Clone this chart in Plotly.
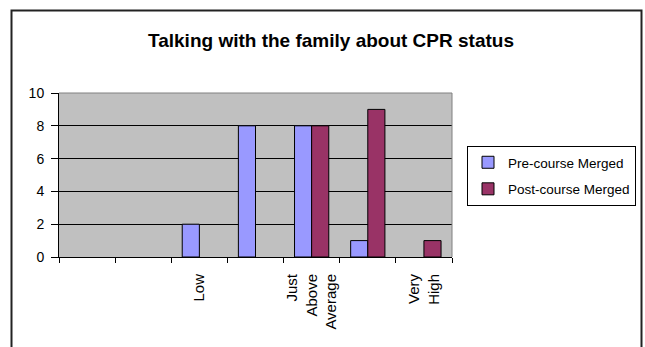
import plotly.graph_objects as go

categories = ["", "", "Low", "", "Just Above Average", "", "Very High"]
pre_course = [0, 0, 2, 8, 8, 1, 0]
post_course = [0, 0, 0, 0, 8, 9, 1]
series_names = ["Pre-course Merged", "Post-course Merged"]
title_text = "Talking with the family about CPR status"
y_ticks = [0, 2, 4, 6, 8, 10]

W, H = 645, 347
L, R, T, B = 59, 452, 93, 257
pw, ph = R - L, B - T

def px_x(v):
    return (v - L) / pw

def px_y(v):
    return (B - v) / ph

xs = list(range(len(categories)))
ticktext = [c.replace(" ", "<br>") for c in categories]

def nz(vals):
    # zero-height bars are not drawn (no outline sliver)
    return [v if v != 0 else None for v in vals]

FONT = "Liberation Sans, Arial, sans-serif"

fig = go.Figure()
fig.add_trace(go.Bar(x=xs, y=nz(pre_course), name=series_names[0], legendgroup="a",
                     marker=dict(color="#9999FF", line=dict(color="black", width=1))))
fig.add_trace(go.Bar(x=xs, y=nz(post_course), name=series_names[1], legendgroup="b",
                     marker=dict(color="#993366", line=dict(color="black", width=1))))
# invisible trace carrying the category-boundary tick marks
fig.add_trace(go.Scatter(x=[-0.5, len(categories) - 0.5], y=[0, 0], xaxis="x2",
                         mode="markers", marker=dict(opacity=0), showlegend=False,
                         hoverinfo="skip"))

fig.update_layout(
    width=W, height=H,
    margin=dict(l=L, r=W - R, t=T, b=H - B, autoexpand=False),
    paper_bgcolor="white",
    plot_bgcolor="#C0C0C0",
    barmode="group",
    bargap=0.39,
    bargroupgap=0,
    font=dict(family=FONT, size=12, color="black"),
    title=dict(text="<b>" + title_text + "</b>", x=331 / W, xref="container", xanchor="center",
               y=1 - 40 / H, yref="container", yanchor="middle",
               font=dict(family=FONT, size=19, color="black")),
    xaxis=dict(range=[-0.5, len(categories) - 0.5], tickmode="array", tickvals=xs,
               ticktext=ticktext, tickangle=-90, ticks="", showgrid=False,
               showline=True, linecolor="black", linewidth=1, zeroline=False,
               automargin=False,
               tickfont=dict(family=FONT, size=15), ticklabelstandoff=10),
    xaxis2=dict(overlaying="x", matches="x", range=[-0.5, len(categories) - 0.5],
                tickmode="array", tickvals=[i - 0.5 for i in range(len(categories) + 1)],
                ticks="outside", ticklen=5, tickcolor="black", showticklabels=False,
                showgrid=False, showline=False, zeroline=False, side="bottom", anchor="y",
                automargin=False),
    yaxis=dict(range=[0, 10], tickmode="array", tickvals=y_ticks, ticks="outside",
               ticklen=7, tickcolor="black", showgrid=True, gridcolor="black", gridwidth=1,
               showline=True, linecolor="black", linewidth=1, zeroline=False,
               automargin=False,
               tickfont=dict(family=FONT, size=14), ticklabelstandoff=4),
    legend=dict(x=467 / W, y=1 - 146 / H, xref="container", yref="container",
                xanchor="left", yanchor="top",
                bordercolor="black", borderwidth=1, bgcolor="white",
                font=dict(family=FONT, size=13.5), tracegroupgap=6,
                traceorder="grouped"),
    showlegend=True,
    shapes=[
        dict(type="line", xref="paper", yref="paper", x0=0, x1=1, y0=1, y1=1,
             line=dict(color="#808080", width=1)),
        dict(type="line", xref="paper", yref="paper", x0=1, x1=1, y0=0, y1=1,
             line=dict(color="#808080", width=1)),
        dict(type="rect", xref="paper", yref="paper", x0=px_x(11.5), x1=px_x(641.5),
             y0=px_y(400), y1=px_y(10.5), line=dict(color="#222222", width=2),
             fillcolor="rgba(0,0,0,0)", layer="below"),
    ],
)

fig.write_html("out.html")
